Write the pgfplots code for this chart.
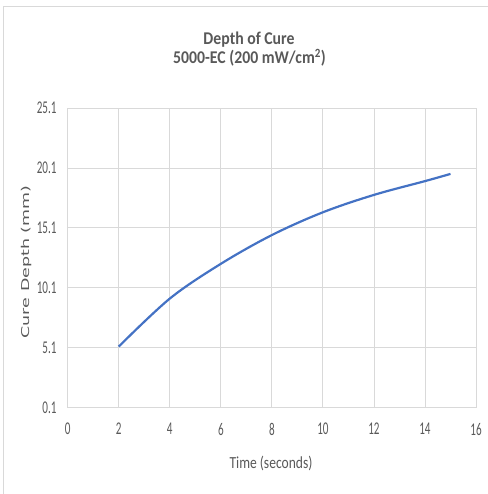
\documentclass[border=0pt]{standalone}
\usepackage{pgfplots}
\pgfplotsset{compat=1.18}
\usepackage{fontspec}
\setmainfont{Carlito}
\newfontfamily\tickfont[FakeStretch=0.62]{Carlito}
\newfontfamily\labfont[FakeStretch=0.8]{Carlito}
\newfontfamily\titlefont[FakeStretch=0.88]{Carlito}
\newfontfamily\yfont{DejaVu Sans}
\definecolor{linecol}{HTML}{4472C4}
\definecolor{gridcol}{HTML}{D9D9D9}
\definecolor{txtcol}{HTML}{595959}
\begin{document}
\begin{tikzpicture}[x=1bp,y=1bp]
\useasboundingbox (0,0) rectangle (488,494);
\draw[gridcol, line width=1bp] (3.5,0) -- (3.5,487) -- (488,487);
\begin{axis}[
  at={(67.7bp,86.3bp)}, anchor=south west,
  scale only axis, width=408.3bp, height=299.7bp,
  xmin=0, xmax=16, ymin=0.1, ymax=25.1,
  xtick={0,2,...,16}, ytick={0.1,5.1,10.1,15.1,20.1,25.1},
  /pgf/number format/assume math mode=true,
  /pgf/number format/fixed,
  /pgf/number format/precision=1,
  grid=major,
  major grid style={gridcol, line width=0.8bp},
  axis line style={gridcol, line width=0.8bp},
  major tick length=0pt,
  tick label style={font=\tickfont\fontsize{18}{18}\selectfont, text=txtcol},
  xticklabel style={yshift=-12bp},
  yticklabel style={xshift=-7.7bp},
  clip=false,
]
\addplot[linecol, line width=2.2bp, smooth, tension=0.55] coordinates {
  (2,5.2) (4,9.2) (6,12.1) (8,14.5) (10,16.4) (12,17.85) (14,19.0) (15,19.6)
};
\end{axis}
\node[text=txtcol, font=\titlefont\bfseries\fontsize{18}{18}\selectfont] at (249,454) {Depth of Cure};
\node[text=txtcol, font=\titlefont\bfseries\fontsize{18}{18}\selectfont] at (249.5,436) {5000-EC (200 mW/cm\textsuperscript{2})};
\node[text=txtcol, font=\labfont\fontsize{17}{17}\selectfont] at (271,31) {Time (seconds)};
\node[text=txtcol, rotate=90] at (27,232) {\scalebox{1}[0.62]{\yfont\fontsize{17.5}{17.5}\selectfont Cure Depth (mm)}};
\end{tikzpicture}
\end{document}
